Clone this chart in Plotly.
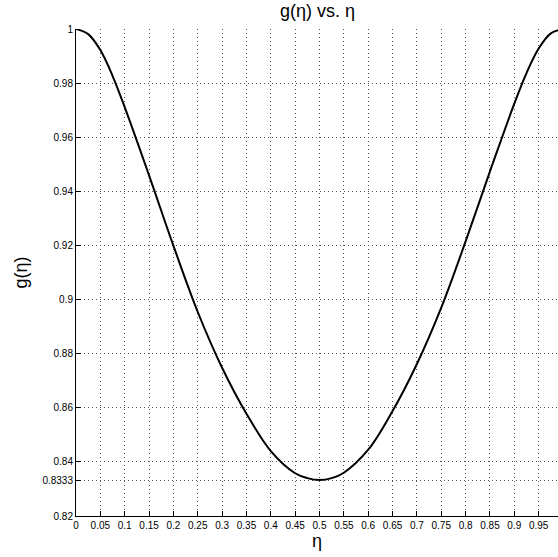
import plotly.graph_objects as go

# Data
eta = [0.0, 0.025, 0.05, 0.075, 0.10, 0.15, 0.20, 0.25, 0.30, 0.35, 0.40, 0.45, 0.475, 0.50,
       0.525, 0.55, 0.60, 0.65, 0.70, 0.75, 0.80, 0.85, 0.90, 0.925, 0.95, 0.975, 1.0]
g_vals = [1.0, 0.9981, 0.9922, 0.9827, 0.9711, 0.9459, 0.9199, 0.8954, 0.8748, 0.8578, 0.8440,
          0.8358, 0.8340, 0.8333,
          0.8340, 0.8360, 0.8445, 0.8588, 0.8762, 0.8970, 0.9215, 0.9474, 0.9724, 0.9837,
          0.9928, 0.9984, 1.0]

x_tick_vals = [0.0, 0.05, 0.1, 0.15, 0.2, 0.25, 0.3, 0.35, 0.4, 0.45, 0.5,
               0.55, 0.6, 0.65, 0.7, 0.75, 0.8, 0.85, 0.9, 0.95, 1.0]
x_tick_text = ["0", "0.05", "0.1", "0.15", "0.2", "0.25", "0.3", "0.35", "0.4", "0.45", "0.5",
               "0.55", "0.6", "0.65", "0.7", "0.75", "0.8", "0.85", "0.9", "0.95", "1"]
y_tick_vals = [0.82, 0.8333, 0.84, 0.86, 0.88, 0.9, 0.92, 0.94, 0.96, 0.98, 1.0]
y_tick_text = ["0.82", "0.8333", "0.84", "0.86", "0.88", "0.9", "0.92", "0.94", "0.96", "0.98", "1"]

title_text = "g(η) vs. η"
x_label = "η"
y_label = "g(η)"

FONT = "Liberation Sans, Arial, Helvetica, sans-serif"

fig = go.Figure()
fig.add_trace(go.Scatter(
    x=eta, y=g_vals, mode="lines",
    line=dict(color="black", width=2, shape="spline", smoothing=1.0),
    hoverinfo="skip", showlegend=False,
))

axis_common = dict(
    showgrid=True, gridcolor="#555", griddash="1px,3px", gridwidth=1,
    showline=True, linecolor="black", linewidth=1,
    ticks="inside", ticklen=5, tickwidth=1, tickcolor="black",
    zeroline=False, mirror=False,
    tickfont=dict(family=FONT, size=10, color="black"),
)

fig.update_layout(
    width=558, height=557,
    margin=dict(l=76, r=0, t=29, b=41, pad=0),
    paper_bgcolor="white", plot_bgcolor="white",
    xaxis=dict(range=[0, 0.9897], tickmode="array", tickvals=x_tick_vals,
               ticktext=x_tick_text, **axis_common),
    yaxis=dict(range=[0.82, 1.0], tickmode="array", tickvals=y_tick_vals,
               ticktext=y_tick_text, **axis_common),
    annotations=[
        dict(text=title_text, xref="paper", yref="paper", x=0.5, y=1.0,
             xanchor="center", yanchor="middle", yshift=18, showarrow=False,
             font=dict(family=FONT, size=18, color="black")),
        dict(text=x_label, xref="paper", yref="paper", x=0.5, y=0.0,
             xanchor="center", yanchor="middle", yshift=-25, showarrow=False,
             font=dict(family=FONT, size=18, color="black")),
        dict(text=y_label, xref="paper", yref="paper", x=0.0, y=0.5,
             xanchor="center", yanchor="middle", xshift=-56, textangle=-90,
             showarrow=False,
             font=dict(family=FONT, size=18, color="black")),
    ],
)

fig.write_html("out.html", config={"displayModeBar": False})
